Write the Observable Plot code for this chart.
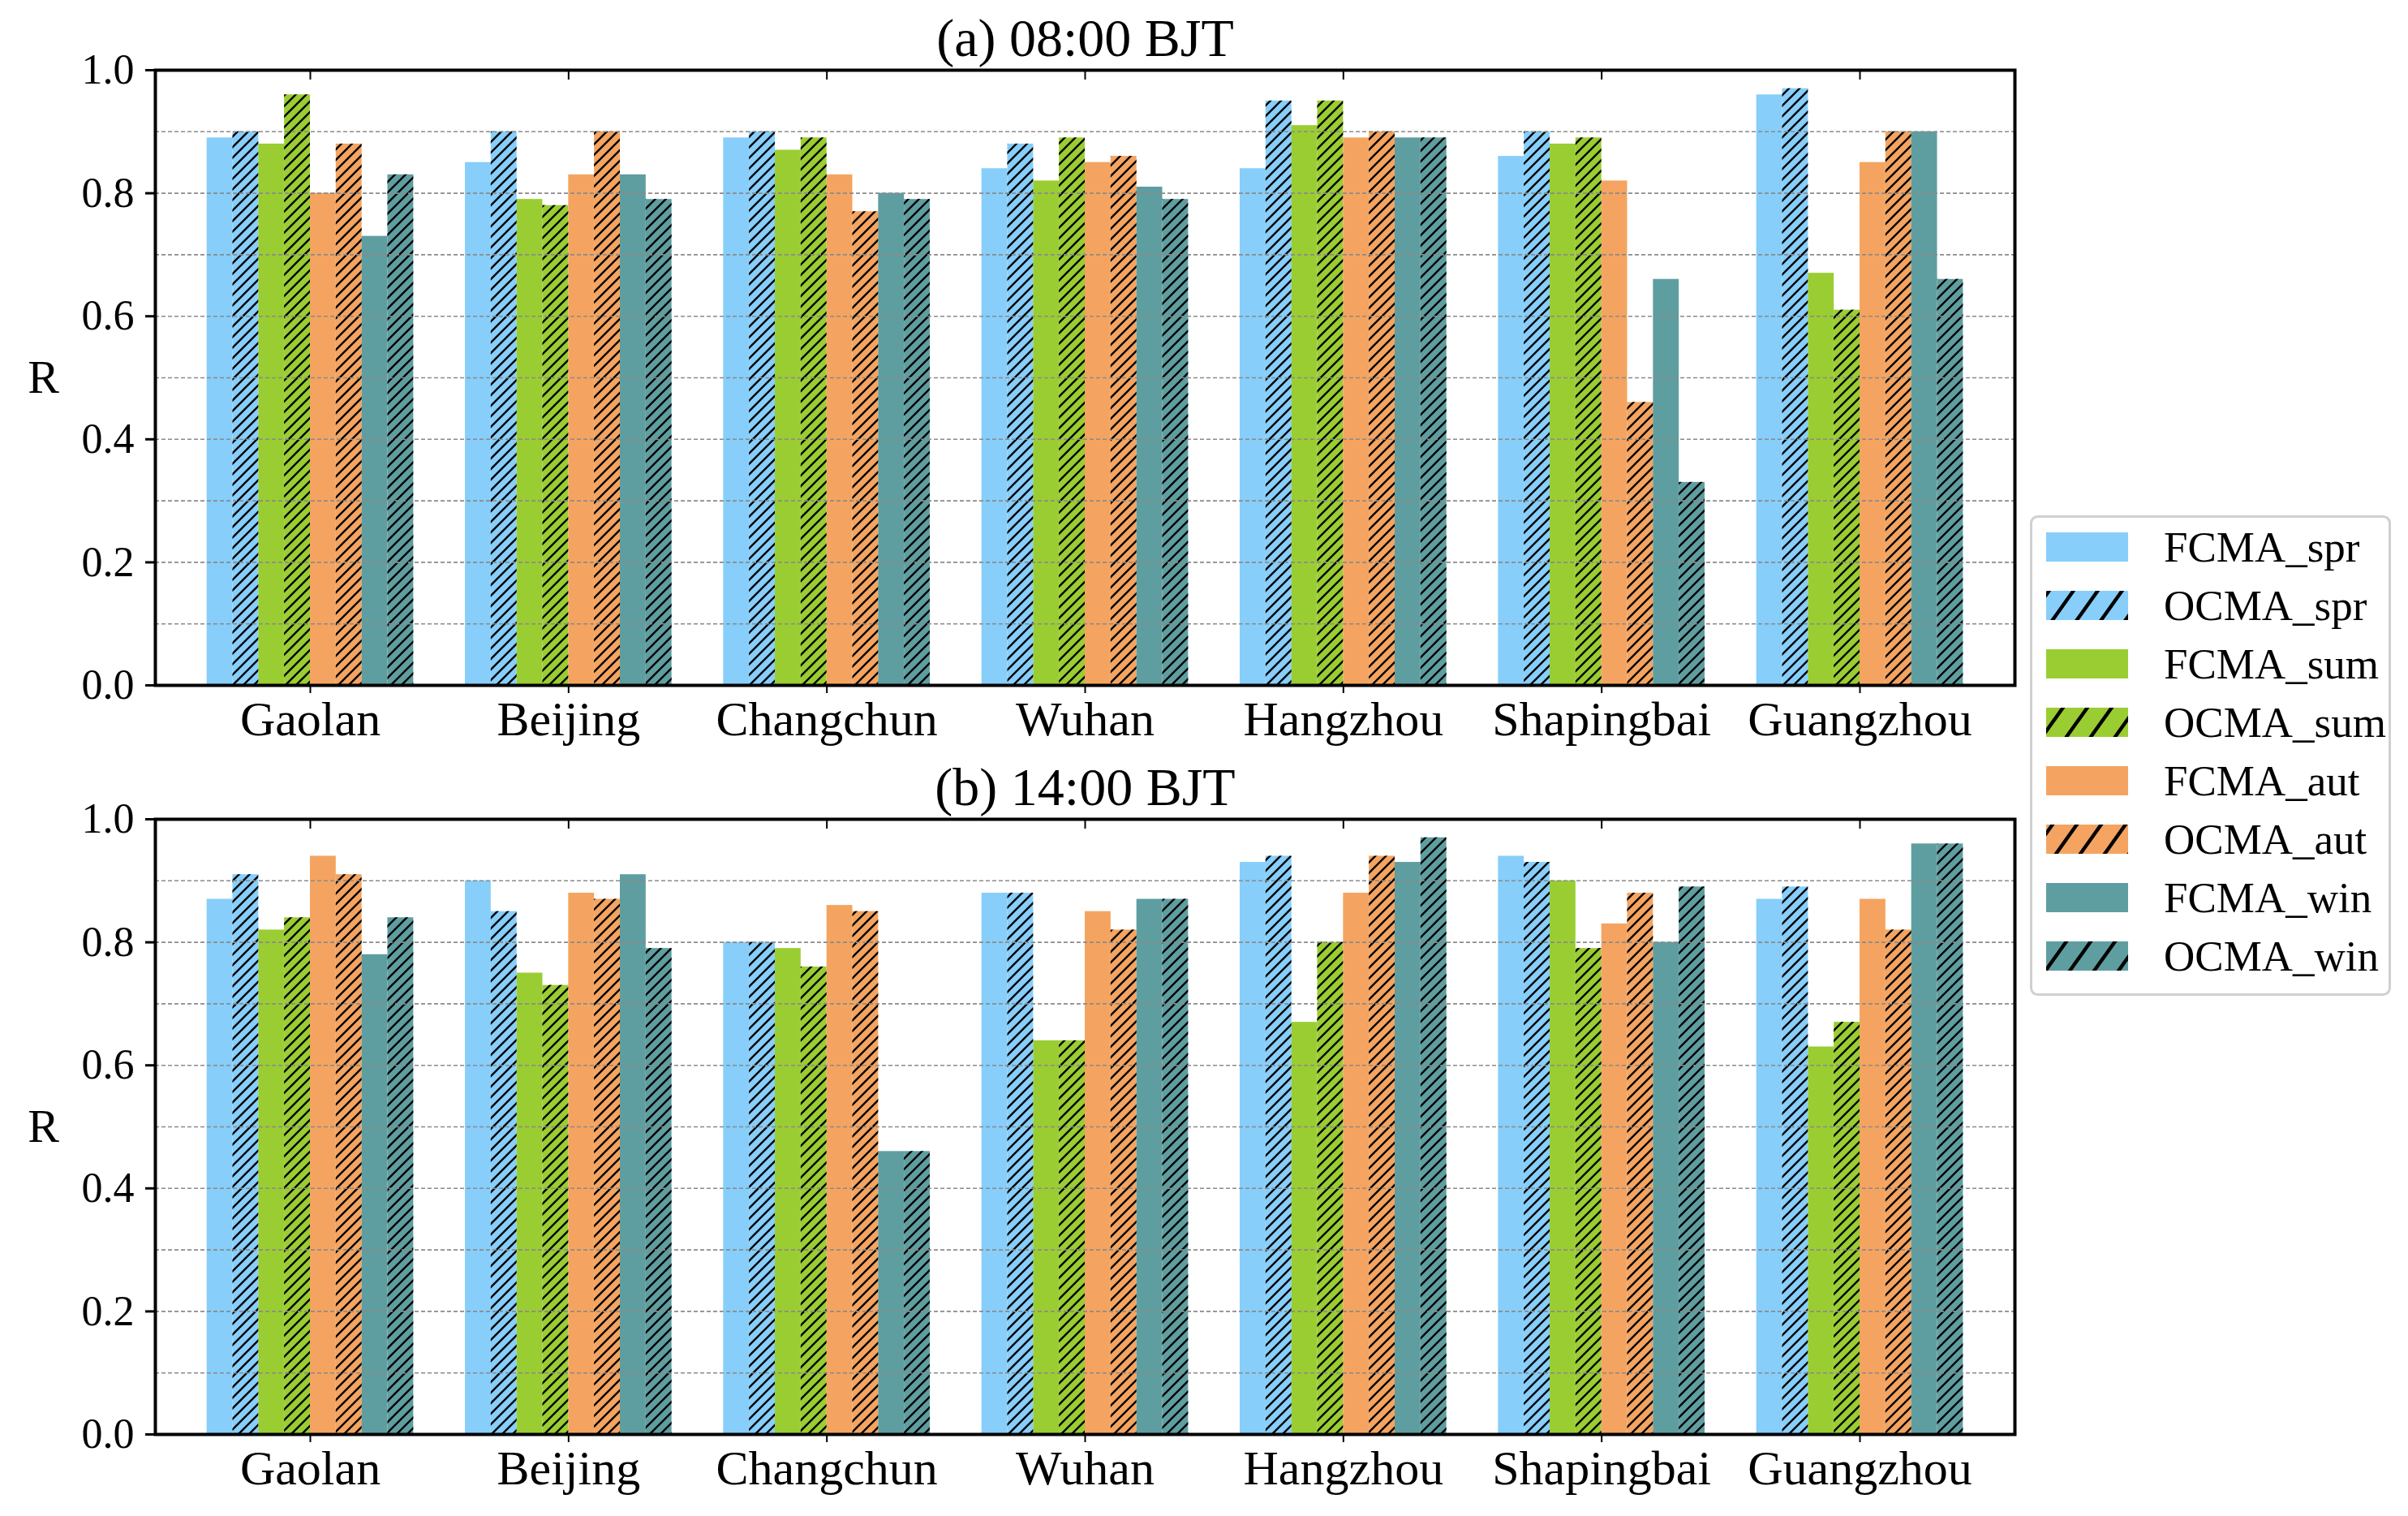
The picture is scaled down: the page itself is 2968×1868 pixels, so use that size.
<!DOCTYPE html>
<html>
<head>
<meta charset="utf-8">
<script src="https://cdn.jsdelivr.net/npm/d3@7"></script>
<script src="https://cdn.jsdelivr.net/npm/@observablehq/plot@0.6"></script>
<style>
  html, body { margin: 0; padding: 0; background: #ffffff; }
  #fig { position: relative; width: 2968px; height: 1868px; background: #ffffff;
         font-family: "Liberation Serif", "Times New Roman", serif; }
  .panel { position: absolute; left: 0; }
</style>
</head>
<body>
<svg width="0" height="0" style="position:absolute">
  <defs>
    <pattern id="hatchBar" patternUnits="userSpaceOnUse" width="13" height="13">
      <path d="M-3.25,3.25 L3.25,-3.25 M0,13 L13,0 M9.75,16.25 L16.25,9.75" stroke="#000" stroke-width="2.4" fill="none"/>
    </pattern>
    <pattern id="hatchLegend" patternUnits="userSpaceOnUse" width="30" height="42">
      <path d="M-7.5,10.5 L7.5,-10.5 M0,42 L30,0 M22.5,52.5 L37.5,31.5" stroke="#000" stroke-width="4.5" fill="none"/>
    </pattern>
  </defs>
</svg>
<div id="fig">
  <div id="pa" class="panel" style="top:0px"></div>
  <div id="pb" class="panel" style="top:930px"></div>
  <div id="legend" style="position:absolute; left:2502px; top:635px;"></div>
</div>
<script>
// ---------- data ----------
const stations = ["Gaolan", "Beijing", "Changchun", "Wuhan", "Hangzhou", "Shapingbai", "Guangzhou"];
const seriesNames = ["FCMA_spr", "OCMA_spr", "FCMA_sum", "OCMA_sum", "FCMA_aut", "OCMA_aut", "FCMA_win", "OCMA_win"];
const seasonColors = ["#87CEFA", "#9ACD32", "#F4A460", "#5F9EA0"];
const yTickValues = [0.0, 0.2, 0.4, 0.6, 0.8, 1.0];
const gridValues = [0.1, 0.2, 0.3, 0.4, 0.5, 0.6, 0.7, 0.8, 0.9];
const titleA = "(a) 08:00 BJT";
const titleB = "(b) 14:00 BJT";
const yLabel = "R";

// (a) 08:00 BJT
const fcmaSpr08 = [0.89, 0.85, 0.89, 0.84, 0.84, 0.86, 0.96];
const ocmaSpr08 = [0.90, 0.90, 0.90, 0.88, 0.95, 0.90, 0.97];
const fcmaSum08 = [0.88, 0.79, 0.87, 0.82, 0.91, 0.88, 0.67];
const ocmaSum08 = [0.96, 0.78, 0.89, 0.89, 0.95, 0.89, 0.61];
const fcmaAut08 = [0.80, 0.83, 0.83, 0.85, 0.89, 0.82, 0.85];
const ocmaAut08 = [0.88, 0.90, 0.77, 0.86, 0.90, 0.46, 0.90];
const fcmaWin08 = [0.73, 0.83, 0.80, 0.81, 0.89, 0.66, 0.90];
const ocmaWin08 = [0.83, 0.79, 0.79, 0.79, 0.89, 0.33, 0.66];

// (b) 14:00 BJT
const fcmaSpr14 = [0.87, 0.90, 0.80, 0.88, 0.93, 0.94, 0.87];
const ocmaSpr14 = [0.91, 0.85, 0.80, 0.88, 0.94, 0.93, 0.89];
const fcmaSum14 = [0.82, 0.75, 0.79, 0.64, 0.67, 0.90, 0.63];
const ocmaSum14 = [0.84, 0.73, 0.76, 0.64, 0.80, 0.79, 0.67];
const fcmaAut14 = [0.94, 0.88, 0.86, 0.85, 0.88, 0.83, 0.87];
const ocmaAut14 = [0.91, 0.87, 0.85, 0.82, 0.94, 0.88, 0.82];
const fcmaWin14 = [0.78, 0.91, 0.46, 0.87, 0.93, 0.80, 0.96];
const ocmaWin14 = [0.84, 0.79, 0.46, 0.87, 0.97, 0.89, 0.96];

const series08 = [fcmaSpr08, ocmaSpr08, fcmaSum08, ocmaSum08, fcmaAut08, ocmaAut08, fcmaWin08, ocmaWin08];
const series14 = [fcmaSpr14, ocmaSpr14, fcmaSum14, ocmaSum14, fcmaAut14, ocmaAut14, fcmaWin14, ocmaWin14];

// ---------- build table ----------
const barWidth = 0.1;
function buildRows(seriesArrays) {
  const out = [];
  seriesArrays.forEach((arr, k) => {
    arr.forEach((v, i) => {
      out.push({
        station: stations[i], si: i, series: seriesNames[k], k,
        value: v, color: seasonColors[Math.floor(k / 2)], hatched: k % 2 === 1
      });
    });
  });
  return out;
}

const fontFamily = "'Liberation Serif', 'Times New Roman', serif";
const W = 2500, ML = 191, MR = W - 2483;

function panel(title, rows, height, mt, mb) {
  const plotH = height - mt - mb;
  const x1 = d => d.si + (d.k - 4) * barWidth;
  const x2 = d => d.si + (d.k - 3) * barWidth;
  return Plot.plot({
    width: W, height,
    marginLeft: ML, marginRight: MR, marginTop: mt, marginBottom: mb,
    style: { fontFamily, fontSize: "52px", color: "#000", background: "transparent", overflow: "visible" },
    x: { domain: [-0.6, stations.length - 0.4] },
    y: { domain: [0, 1] },
    color: { type: "identity" },
    marks: [
      Plot.rectY(rows, { x1, x2, y1: 0, y2: "value", fill: "color" }),
      Plot.rectY(rows.filter(d => d.hatched), { x1, x2, y1: 0, y2: "value", fill: "url(#hatchBar)" }),
      Plot.gridY(gridValues, { stroke: "#8a8a8a", strokeOpacity: 1, strokeWidth: 1.6, strokeDasharray: "5,3" }),
      Plot.tickX(d3.range(stations.length), { x: d => d, stroke: "#000", strokeWidth: 2, insetBottom: plotH - 12 }),
      Plot.axisY({ ticks: yTickValues, tickFormat: d3.format(".1f"), tickSize: 12, tickPadding: 14,
                   strokeWidth: 3, fontSize: 52, label: null }),
      Plot.axisX({ ticks: d3.range(stations.length), tickFormat: i => stations[i], tickSize: 10, tickPadding: 9,
                   strokeWidth: 2, fontSize: 60, label: null }),
      Plot.frame({ stroke: "#000", strokeWidth: 4 }),
      Plot.text([title], { text: d => d, frameAnchor: "top", dy: -18, lineAnchor: "bottom", fontSize: 66 }),
      Plot.text([yLabel], { text: d => d, frameAnchor: "left", dx: -138, textAnchor: "middle", fontSize: 58 })
    ]
  });
}

document.getElementById("pa").appendChild(panel(titleA, buildRows(series08), 930, 86, 86));
document.getElementById("pb").appendChild(panel(titleB, buildRows(series14), 938, 79, 101));

// ---------- legend ----------
const LW = 445, LH = 592;
const lg = d3.select("#legend").append("svg")
  .attr("width", LW).attr("height", LH)
  .style("font-family", fontFamily);
lg.append("rect").attr("x", 1.5).attr("y", 1.5).attr("width", LW - 3).attr("height", LH - 3)
  .attr("rx", 8).attr("fill", "#fff").attr("stroke", "#d0d0d0").attr("stroke-width", 3);
seriesNames.forEach((name, k) => {
  const cy = 39 + 72 * k;
  const color = seasonColors[Math.floor(k / 2)];
  lg.append("rect").attr("x", 20).attr("y", cy - 18).attr("width", 101).attr("height", 36).attr("fill", color);
  if (k % 2 === 1) {
    lg.append("rect").attr("x", 20).attr("y", cy - 18).attr("width", 101).attr("height", 36).attr("fill", "url(#hatchLegend)");
  }
  lg.append("text").attr("x", 165).attr("y", cy + 18).attr("font-size", 53).attr("fill", "#000").text(name);
});
</script>
</body>
</html>
